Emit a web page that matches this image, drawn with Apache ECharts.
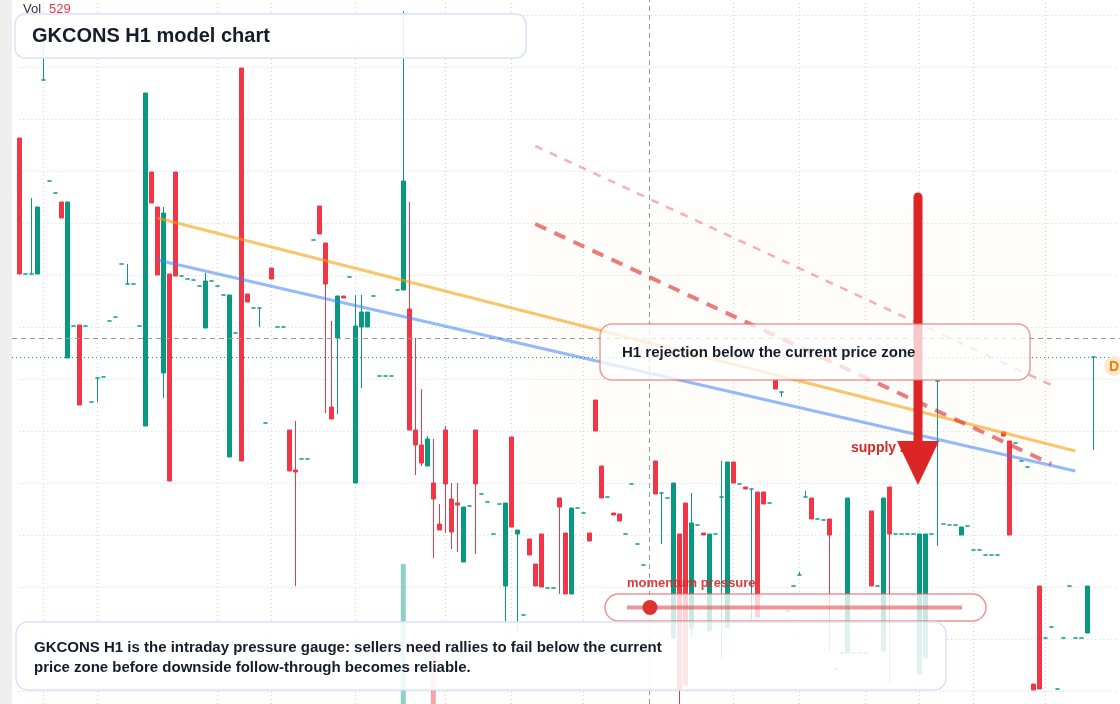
<!DOCTYPE html>
<html>
<head>
<meta charset="utf-8">
<title>GKCONS H1 model chart</title>
<script src="https://cdn.jsdelivr.net/npm/echarts@6/dist/echarts.min.js"></script>
<style>
    html, body { margin: 0; padding: 0; background: #fff; }
    #main { width: 1120px; height: 704px; }
</style>
</head>
<body>
<div id="main"></div>
<script>
// 开盘价
var openP = [
    36.73, 35.37, 35.37, 35.37, 37.31, 36.30, 36.18, 36.09, 34.53, 34.85,
    34.86, 34.85, 34.09, 34.33, 34.34, 34.90, 34.94, 35.47, 35.27, 35.27,
    34.85, 33.85, 36.39, 36.04, 34.38, 35.37, 36.39, 35.35, 35.32, 35.31,
    35.25, 34.83, 35.30, 35.25, 35.16, 33.54, 34.78, 37.43, 35.17, 35.03,
    35.03, 33.88, 35.43, 34.84, 34.84, 33.81, 33.41, 33.52, 33.52, 35.71,
    36.05, 35.68, 34.04, 34.73, 35.15, 35.34, 33.28, 34.84, 34.84, 35.15,
    34.35, 34.35, 34.35, 35.21, 35.21, 35.02, 33.81, 33.66, 33.45, 33.28,
    32.87, 33.81, 33.12, 33.08, 32.49, 33.05, 33.81, 33.17, 33.09, 32.77,
    33.07, 32.25, 33.74, 32.77, 31.96, 32.72, 32.47, 32.77, 32.23, 32.23,
    33.13, 32.78, 32.17, 33.03, 32.98, 32.78, 34.11, 33.45, 33.14, 32.98,
    32.97, 32.77, 33.27, 32.67, 32.46, null, 33.50, 33.18, 33.13, 31.73,
    32.77, 33.08, 31.82, 32.86, 32.78, 31.80, 32.77, 33.14, 31.83, 33.49,
    33.27, 33.24, 33.22, 33.19, 33.19, 33.08, 34.31, 34.19, 32.00, 32.25,
    32.36, 33.14, 33.13, 32.92, 32.91, 32.92, 31.42, 31.58, 31.58, 31.58,
    31.58, 31.58, 33.00, 32.25, 31.60, 33.24, 32.77, 32.77, 32.77, 32.77,
    31.37, 31.53, 32.77, 34.30, 32.87, 32.86, 32.86, 32.76, 32.85, 32.61,
    32.61, 32.56, 32.56, 32.56, 33.79, 33.70, 33.68, 33.50, 33.44, 31.27,
    32.25, 31.73, 31.84, 31.22, 31.73, 32.25, 31.73, 31.73, 31.78, 34.54
];
// 收盘价
var closeP = [
    35.37, 35.37, 35.37, 36.04, 37.31, 36.30, 36.18, 35.93, 36.09, 34.85,
    34.06, 34.85, 34.09, 34.33, 34.34, 34.90, 34.94, 35.47, 35.27, 35.27,
    34.85, 37.18, 36.08, 35.36, 35.98, 33.30, 35.35, 35.35, 35.32, 35.31,
    35.25, 35.30, 35.30, 35.25, 35.16, 35.16, 34.78, 33.50, 35.09, 35.03,
    35.03, 33.88, 35.32, 34.84, 34.84, 33.40, 33.39, 33.52, 33.52, 35.71,
    35.77, 35.27, 33.92, 35.15, 35.13, 35.34, 34.85, 34.99, 34.99, 35.15,
    34.35, 34.35, 34.35, 35.21, 36.30, 33.81, 33.66, 33.48, 33.72, 33.12,
    32.81, 33.27, 32.79, 33.06, 33.04, 33.05, 33.27, 33.17, 33.09, 32.77,
    33.07, 33.08, 32.84, 32.81, 31.96, 32.56, 32.25, 32.24, 32.23, 32.23,
    33.04, 32.17, 33.03, 33.03, 32.98, 32.70, 33.80, 33.13, 33.14, 32.96,
    32.90, 32.77, 33.27, 32.67, 32.46, null, 33.17, 33.18, 33.13, 33.28,
    31.22, 31.26, 32.88, 32.86, 32.76, 32.77, 32.77, 33.14, 33.49, 33.28,
    33.27, 33.22, 33.22, 31.94, 33.07, 33.08, 34.22, 34.19, 32.00, 32.25,
    32.36, 33.14, 32.92, 32.92, 32.91, 32.76, 31.42, 31.58, 33.13, 31.58,
    31.58, 31.58, 32.25, 32.25, 33.13, 32.77, 32.77, 32.77, 32.77, 32.77,
    32.77, 32.77, 32.77, 34.30, 32.87, 32.86, 32.86, 32.84, 32.85, 32.61,
    32.61, 32.56, 32.56, 32.56, 33.75, 32.76, 33.68, 33.50, 33.44, 31.21,
    31.22, 31.73, 31.84, 31.22, 31.73, 32.25, 31.73, 31.73, 32.25, 34.54
];
// 最低价
var lowP = [
    35.37, 35.37, 35.37, 35.37, 37.31, 36.30, 36.18, 35.93, 34.53, 34.85,
    34.06, 34.85, 34.09, 34.09, 34.34, 34.90, 34.94, 35.47, 35.27, 35.27,
    34.85, 33.85, 36.08, 35.36, 34.13, 33.30, 35.35, 35.35, 35.32, 35.31,
    35.25, 34.83, 35.30, 35.25, 35.16, 33.54, 34.78, 33.50, 35.09, 35.03,
    34.84, 33.88, 35.32, 34.84, 34.84, 33.40, 32.25, 33.52, 33.52, 35.71,
    35.77, 33.98, 33.92, 33.97, 35.13, 35.34, 33.28, 34.23, 34.84, 35.15,
    34.35, 34.35, 34.35, 35.21, 35.21, 33.81, 33.36, 33.45, 33.45, 32.53,
    32.81, 32.78, 32.62, 32.59, 32.49, 33.05, 32.57, 33.17, 33.09, 32.77,
    33.07, 31.87, 32.84, 31.80, 31.96, 32.56, 32.25, 32.24, 32.23, 32.23,
    32.17, 32.17, 32.17, 33.03, 32.98, 32.70, 33.80, 33.13, 33.14, 32.96,
    32.90, 32.77, 33.27, 32.67, 32.46, null, 33.17, 32.67, 33.13, 31.73,
    30.99, 31.26, 31.74, 32.86, 32.76, 31.80, 32.77, 31.53, 31.83, 33.28,
    33.27, 33.22, 31.91, 31.94, 33.07, 33.08, 34.22, 34.14, 32.00, 32.25,
    32.36, 33.14, 32.92, 32.92, 32.91, 31.60, 31.42, 31.58, 31.58, 31.58,
    31.58, 31.58, 32.25, 32.25, 31.60, 31.28, 32.77, 32.77, 32.77, 32.77,
    31.37, 31.53, 32.77, 32.65, 32.87, 32.86, 32.86, 32.76, 32.85, 32.61,
    32.61, 32.56, 32.56, 32.56, 33.75, 32.76, 33.68, 33.50, 33.44, 31.21,
    31.22, 31.73, 31.84, 31.22, 31.73, 32.25, 31.73, 31.73, 31.78, 33.61
];
// 最高价
var highP = [
    36.73, 35.37, 36.13, 36.04, 37.71, 36.30, 36.18, 36.09, 36.09, 34.85,
    34.86, 34.85, 34.09, 34.33, 34.34, 34.90, 34.94, 35.47, 35.47, 35.27,
    34.85, 37.18, 36.39, 36.04, 36.04, 35.37, 36.39, 35.35, 35.32, 35.31,
    35.25, 35.38, 35.30, 35.25, 35.16, 35.16, 34.78, 37.43, 35.17, 35.03,
    35.03, 33.88, 35.43, 34.84, 34.84, 33.81, 33.90, 33.52, 33.52, 35.71,
    36.05, 35.68, 34.90, 35.15, 35.15, 35.34, 35.16, 35.16, 34.99, 35.15,
    34.35, 34.35, 34.35, 35.21, 38.00, 36.09, 34.73, 34.22, 33.75, 33.72,
    33.07, 33.85, 33.28, 33.28, 33.04, 33.05, 33.81, 33.17, 33.09, 32.77,
    33.07, 33.08, 33.74, 32.81, 31.96, 32.72, 32.47, 32.77, 32.23, 32.23,
    33.13, 32.78, 33.03, 33.03, 32.98, 32.78, 34.11, 33.45, 33.14, 32.98,
    32.97, 32.77, 33.27, 32.67, 32.46, null, 33.50, 33.18, 33.13, 33.28,
    32.77, 33.08, 33.18, 32.86, 32.78, 32.77, 32.77, 33.50, 33.49, 33.49,
    33.27, 33.24, 33.22, 33.19, 33.19, 33.08, 34.31, 34.19, 32.00, 32.25,
    32.39, 33.20, 33.13, 32.92, 32.91, 32.92, 31.42, 31.58, 33.13, 31.58,
    31.58, 31.58, 33.00, 32.25, 33.13, 33.24, 32.77, 32.77, 32.77, 32.77,
    32.77, 32.77, 32.77, 34.30, 32.87, 32.86, 32.86, 32.84, 32.85, 32.61,
    32.61, 32.56, 32.56, 32.56, 33.79, 33.70, 33.68, 33.50, 33.44, 31.27,
    32.25, 31.73, 31.84, 31.22, 31.73, 32.25, 31.73, 31.73, 32.25, 34.54
];
// 成交量 (只有这几根在画面里)
var volIdx = [64, 69, 179];
var volVal = [872, 718, 529];
// 日分隔线所在K线
var dayIdx = [4, 13, 33, 42, 56, 71, 82, 94, 119, 130, 141, 150, 159, 171];
// 画线 [起点K线, 起点价, 终点K线, 终点价]
var orangeLine = [23, 35.93, 176, 33.60];
var blueLine = [23, 35.51, 176, 33.40];
var supplyUpper = [86, 36.65, 172, 34.26];
var supplyLower = [86, 35.87, 172, 33.47];
var zoneBox = [85, 36.04, 172, 33.29];
var lastPrice = 34.54;
var crossIdx = 105;
var crossPrice = 34.73;

var up = '#089981';
var down = '#f23645';
var font = '"Liberation Sans", Arial, sans-serif';

var cats = [];
for (var i = 0; i < 184; i++) {
    cats.push('H' + i);
}
var kData = [];
var volData = [];
for (var i = 0; i < openP.length; i++) {
    volData.push('-');
    if (openP[i] == null) {
        kData.push('-');
        continue;
    }
    var item = { value: [openP[i], closeP[i], lowP[i], highP[i]] };
    if (openP[i] === closeP[i]) {
        item.itemStyle = { color: up, color0: up, borderColor: up, borderColor0: up };
    }
    kData.push(item);
}
for (var j = 0; j < volIdx.length; j++) {
    var k = volIdx[j];
    volData[k] = {
        value: volVal[j],
        itemStyle: { color: closeP[k] >= openP[k] ? 'rgba(8,153,129,0.45)' : 'rgba(242,54,69,0.45)' }
    };
}

// 竖向分隔线画在整高的成交量网格上, 压在K线下面
var vLines = [];
for (var d = 0; d < dayIdx.length; d++) {
    vLines.push({ xAxis: dayIdx[d], lineStyle: { color: '#d2d2d2', type: [1, 3], width: 1 } });
}

function seg(p, style) {
    return [{ coord: [p[0], p[1]], lineStyle: style }, { coord: [p[2], p[3]] }];
}

var priceAxis = {
    type: 'value',
    min: 31.20,
    max: 37.96,
    interval: 0.52,
    axisLine: { show: false },
    axisTick: { show: false },
    axisLabel: { show: false }
};

var myChart = echarts.init(document.getElementById('main'), null, { renderer: 'canvas' });
var option = {
    animation: false,
    backgroundColor: '#fff',
    grid: [
        { left: 19.3, width: 1098, top: 15, height: 676 },
        { left: 19.3, width: 1098, top: 0, height: 704 },
        { left: 12, right: 0, top: 15, height: 676 }
    ],
    xAxis: [
        {
            type: 'category',
            data: cats,
            boundaryGap: false,
            gridIndex: 0,
            axisLine: { show: false },
            axisTick: { show: false },
            axisLabel: { show: false },
            splitLine: { show: false }
        },
        {
            type: 'category',
            data: cats,
            boundaryGap: false,
            gridIndex: 1,
            show: false
        },
        {
            type: 'value',
            gridIndex: 2,
            min: 0,
            max: 1,
            show: false,
            splitLine: { show: false }
        }
    ],
    yAxis: [
        Object.assign({ gridIndex: 0, splitLine: { show: true, lineStyle: { color: '#d2d2d2', type: [1, 3], width: 1 } } }, priceAxis),
        {
            type: 'value',
            gridIndex: 1,
            min: 592,
            max: 2000,
            show: false,
            splitLine: { show: false }
        },
        Object.assign({ gridIndex: 2, show: false, splitLine: { show: false } }, priceAxis)
    ],
    series: [
        {
            // 供给区底色
            type: 'line',
            data: [],
            z: 1,
            silent: true,
            markArea: {
                silent: true,
                z: 0,
                itemStyle: { color: 'rgba(253,232,210,0.1)' },
                data: [[{ coord: [zoneBox[0], zoneBox[1]] }, { coord: [zoneBox[2], zoneBox[3]] }]]
            }
        },
        {
            type: 'bar',
            xAxisIndex: 1,
            yAxisIndex: 1,
            data: volData,
            barWidth: 5,
            z: 1,
            silent: true,
            markLine: {
                silent: true,
                z: 0,
                symbol: ['none', 'none'],
                label: { show: false },
                data: vLines
            }
        },
        {
            // 十字线竖线
            type: 'line',
            xAxisIndex: 1,
            yAxisIndex: 1,
            data: [],
            z: 3,
            silent: true,
            markLine: {
                silent: true,
                z: 3,
                symbol: ['none', 'none'],
                label: { show: false },
                data: [{ xAxis: crossIdx, lineStyle: { color: '#9a9a9a', type: [5, 4], width: 1 } }]
            }
        },
        {
            // 十字线横线和现价线 (全宽)
            type: 'line',
            xAxisIndex: 2,
            yAxisIndex: 2,
            data: [],
            z: 3,
            silent: true,
            markLine: {
                silent: true,
                z: 3,
                symbol: ['none', 'none'],
                label: { show: false },
                data: [
                    { yAxis: crossPrice, lineStyle: { color: '#9a9a9a', type: [5, 4], width: 1 } },
                    { yAxis: lastPrice, lineStyle: { color: up, type: [1, 3], width: 1.2 } }
                ]
            }
        },
        {
            type: 'candlestick',
            data: kData,
            barWidth: 4,
            clip: false,
            z: 2,
            silent: true,
            itemStyle: {
                color: up,
                color0: down,
                borderColor: up,
                borderColor0: down,
                borderColorDoji: up,
                borderWidth: 1
            }
        },
        {
            // 趋势线
            type: 'line',
            data: [],
            z: 4,
            silent: true,
            markLine: {
                silent: true,
                symbol: ['none', 'none'],
                label: { show: false },
                data: [
                    seg(orangeLine, { color: 'rgba(245,158,11,0.6)', width: 3, type: 'solid' }),
                    seg(blueLine, { color: 'rgba(59,130,246,0.55)', width: 3, type: 'solid' }),
                    seg(supplyUpper, { color: 'rgba(220,38,38,0.35)', width: 2.5, type: [8, 8] }),
                    seg(supplyLower, { color: 'rgba(220,38,38,0.6)', width: 4, type: [12, 9] })
                ]
            }
        }
    ],
    graphic: [
        { type: 'rect', z: 0, shape: { x: 0, y: 0, width: 12, height: 704 }, style: { fill: '#eeeeee' } },
        {
            type: 'text', z: 20, x: 851, y: 448,
            style: { text: 'supply zone', fill: '#dc2626', fontSize: 14, fontWeight: 'bold', fontFamily: font, verticalAlign: 'middle' }
        },
        {
            type: 'line', z: 21,
            shape: { x1: 918, y1: 197, x2: 918, y2: 444 },
            style: { stroke: '#dc2626', lineWidth: 9, lineCap: 'round' }
        },
        {
            type: 'polygon', z: 21,
            shape: { points: [[897, 441], [939, 441], [918, 485]] },
            style: { fill: '#dc2626' }
        },
        {
            type: 'rect', z: 30,
            shape: { x: 600, y: 324, width: 430, height: 56, r: 12 },
            style: { fill: 'rgba(255,255,255,0.75)', stroke: 'rgba(235,110,110,0.7)', lineWidth: 1.5 }
        },
        {
            type: 'text', z: 31, x: 622, y: 353,
            style: { text: 'H1 rejection below the current price zone', fill: '#151d2b', fontSize: 15, fontWeight: 'bold', fontFamily: font, verticalAlign: 'middle' }
        },
        {
            type: 'rect', z: 30,
            shape: { x: 605, y: 594, width: 381, height: 27, r: 13.5 },
            style: { fill: 'rgba(255,255,255,0.78)', stroke: 'rgba(235,110,110,0.75)', lineWidth: 1.5 }
        },
        {
            type: 'line', z: 31,
            shape: { x1: 627, y1: 607.5, x2: 962, y2: 607.5 },
            style: { stroke: 'rgba(225,80,80,0.6)', lineWidth: 4 }
        },
        {
            type: 'circle', z: 32,
            shape: { cx: 650, cy: 607.5, r: 7.5 },
            style: { fill: '#e03131' }
        },
        {
            type: 'text', z: 31, x: 627, y: 583,
            style: { text: 'momentum pressure', fill: 'rgba(220,38,38,0.9)', fontSize: 13, fontWeight: 'bold', fontFamily: font, verticalAlign: 'middle' }
        },
        {
            type: 'rect', z: 30,
            shape: { x: 16, y: 622, width: 930, height: 68, r: 12 },
            style: { fill: 'rgba(255,255,255,0.87)', stroke: '#d6e3f8', lineWidth: 1.5 }
        },
        {
            type: 'text', z: 31, x: 34, y: 648,
            style: { text: 'GKCONS H1 is the intraday pressure gauge: sellers need rallies to fail below the current', fill: '#151d2b', fontSize: 15, fontWeight: 'bold', fontFamily: font, verticalAlign: 'middle' }
        },
        {
            type: 'text', z: 31, x: 34, y: 668,
            style: { text: 'price zone before downside follow-through becomes reliable.', fill: '#151d2b', fontSize: 15, fontWeight: 'bold', fontFamily: font, verticalAlign: 'middle' }
        },
        {
            type: 'rect', z: 30,
            shape: { x: 15, y: 14, width: 511, height: 44, r: 10 },
            style: { fill: 'rgba(255,255,255,0.88)', stroke: '#d6e3f8', lineWidth: 1.5 }
        },
        {
            type: 'text', z: 31, x: 32, y: 36,
            style: { text: 'GKCONS H1 model chart', fill: '#151d2b', fontSize: 20, fontWeight: 'bold', fontFamily: font, verticalAlign: 'middle' }
        },
        {
            type: 'text', z: 31, x: 23, y: 9,
            style: { text: 'Vol', fill: '#333', fontSize: 13, fontFamily: font, verticalAlign: 'middle' }
        },
        {
            type: 'text', z: 31, x: 49, y: 9,
            style: { text: '529', fill: down, fontSize: 13, fontFamily: font, verticalAlign: 'middle' }
        },
        {
            type: 'circle', z: 31,
            shape: { cx: 1114, cy: 366, r: 10 },
            style: { fill: '#fde8d0' }
        },
        {
            type: 'text', z: 32, x: 1114, y: 367,
            style: { text: 'D', fill: '#f57c00', fontSize: 14, fontWeight: 'bold', fontFamily: font, align: 'center', verticalAlign: 'middle' }
        }
    ]
};
myChart.setOption(option);
</script>
</body>
</html>
